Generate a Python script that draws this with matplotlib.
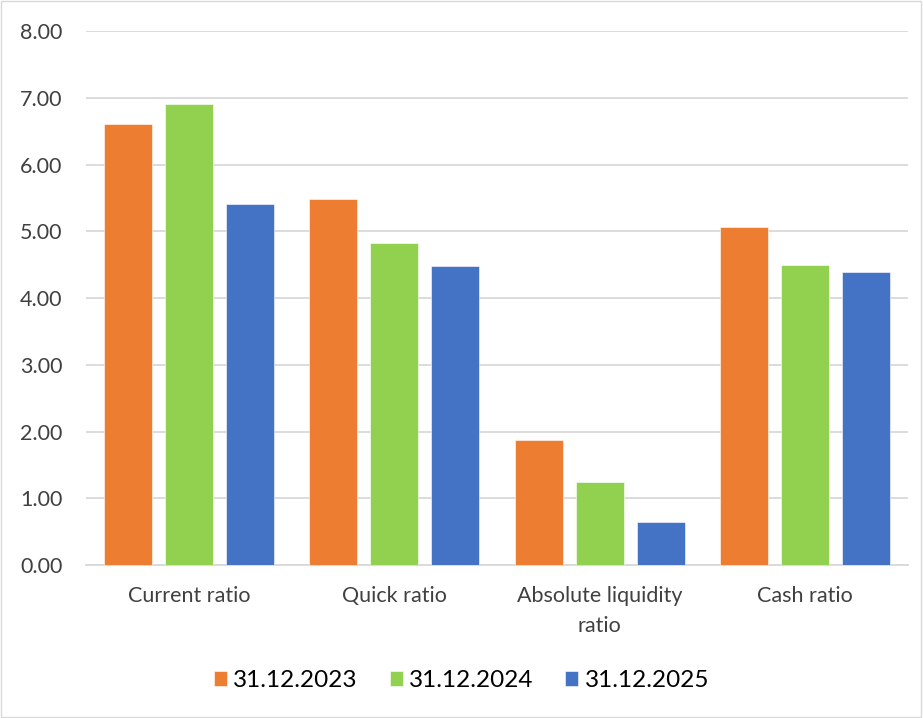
import numpy as np
import matplotlib
matplotlib.use('Agg')
from matplotlib import pyplot as plt
from matplotlib.patches import Rectangle

categories = ['Current ratio', 'Quick ratio', 'Absolute liquidity\nratio', 'Cash ratio']
series_names = ['31.12.2023', '31.12.2024', '31.12.2025']
values_2023 = [6.61, 5.49, 1.87, 5.06]
values_2024 = [6.90, 4.82, 1.25, 4.49]
values_2025 = [5.41, 4.48, 0.65, 4.39]
colors = ['#ED7D31', '#92D050', '#4472C4']
y_ticks = [0, 1, 2, 3, 4, 5, 6, 7, 8]

plt.rcParams['font.family'] = ['Lato', 'DejaVu Sans']

fig = plt.figure(figsize=(9.23, 7.18), dpi=100)
ax = fig.add_axes([0.0935, 0.2131, 0.8902, 0.7437])

x = np.arange(len(categories))
step = 0.297
width = 0.234
all_values = [values_2023, values_2024, values_2025]
for i, vals in enumerate(all_values):
    ax.bar(x + (i - 1) * step, vals, width, color=colors[i], label=series_names[i],
           zorder=3, edgecolor='white', linewidth=0.4)

ax.set_xlim(-0.5, len(categories) - 0.5)
ax.set_ylim(0, 8)
ax.set_yticks(y_ticks)
ax.set_yticklabels(['%.2f' % t for t in y_ticks], fontsize=15.5, color='#404040')
ax.set_xticks(x)
ax.set_xticklabels(categories, fontsize=15.5, color='#404040', linespacing=1.65)
ax.tick_params(axis='both', length=0)
ax.tick_params(axis='y', pad=17)
ax.tick_params(axis='x', pad=15)
ax.grid(axis='y', color='#D9D9D9', linewidth=1.3, zorder=0)
for s in ['top', 'right', 'left']:
    ax.spines[s].set_visible(False)
ax.spines['bottom'].set_color('#D9D9D9')
ax.spines['bottom'].set_linewidth(1.3)

leg = fig.legend(loc='center', bbox_to_anchor=(0.5, 0.052), ncol=3, frameon=False,
                 fontsize=17.5, handlelength=0.55, handleheight=0.55, handletextpad=0.25,
                 columnspacing=1.3)
for t in leg.get_texts():
    t.set_color('#000000')

fig.patches.append(Rectangle((0.001, 0.001), 0.997, 0.997, transform=fig.transFigure,
                             fill=False, edgecolor='#D9D9D9', linewidth=1))

fig.savefig('out.png', dpi=100)
